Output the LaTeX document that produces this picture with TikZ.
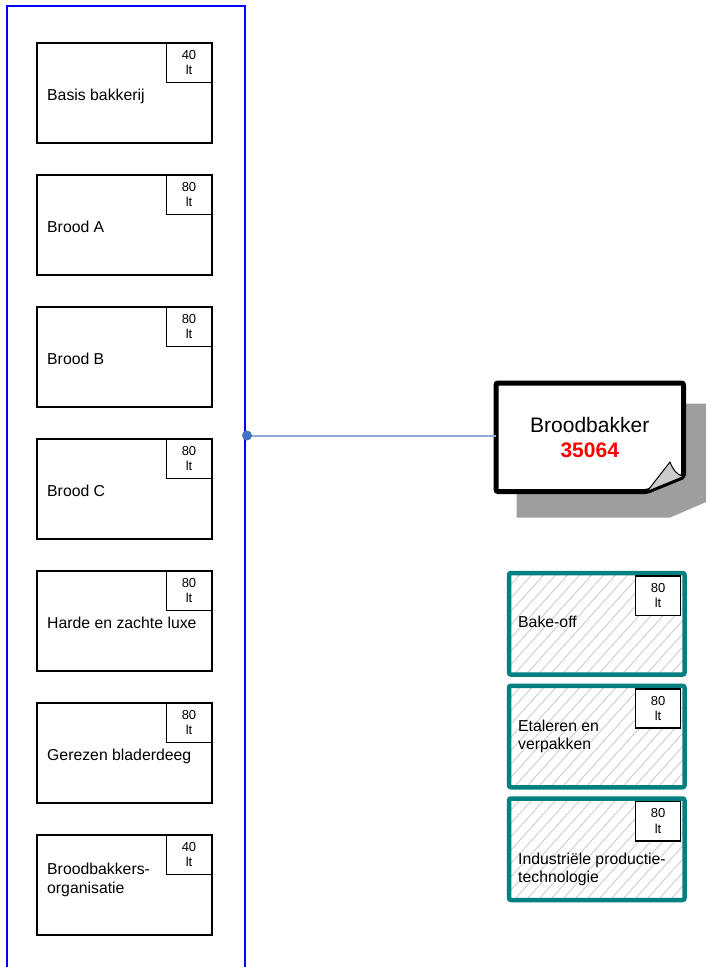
\documentclass[tikz,border=0pt]{standalone}
\usepackage{fontspec}
\setmainfont{Liberation Sans}
\definecolor{laneblue}{HTML}{0000FF}
\definecolor{linkblue}{HTML}{8EAADB}
\definecolor{dotblue}{HTML}{4472C4}
\definecolor{tealline}{HTML}{008080}
\definecolor{shadowgray}{HTML}{9E9E9E}
\definecolor{foldgray}{HTML}{CCCCCC}
\definecolor{hatchgray}{HTML}{C8C8C8}
\tikzset{
  lane/.style = {draw=laneblue, line width=2pt},
  link/.style = {draw=linkblue, line width=2pt},
  hatch/.style = {draw=hatchgray, line width=0.8pt},
  module/.style = {draw, line width=2pt, minimum width=174.5pt, minimum height=99.5pt, anchor=north west, inner sep=0pt, outer sep=0pt},
  elective/.style = {draw=tealline, line width=4.5pt, rounded corners=2pt},
  hours/.style = {draw, fill=white, line width=1.6pt, minimum width=45pt, minimum height=39.5pt, anchor=north east, inner sep=0pt, outer sep=0pt,
    align=center, font=\fontsize{13}{15.5}\selectfont},
  modtext/.style = {anchor=base west, inner sep=0pt, align=left, font=\fontsize{15.8}{18.5}\selectfont},
  note/.style = {minimum width=187.5pt, minimum height=108.5pt, inner sep=0pt, outer sep=0pt, align=center, font=\fontsize{21}{25}\selectfont}
}
\begin{document}
\begin{tikzpicture}[x=1pt,y=-1pt]
\useasboundingbox (0,0) rectangle (705,967);
% leerlijn
\draw[lane] (7,6) rectangle (244.5,990);
\node[module] (basis) at (37,43) {};
\node[hours] (basis-lt) at (basis.north east) {40\\lt};
\node[modtext] (basis-txt) at (47,100) {Basis bakkerij};
\node[module] (broodA) at (37,175) {};
\node[hours] (broodA-lt) at (broodA.north east) {80\\lt};
\node[modtext] (broodA-txt) at (47,232) {Brood A};
\node[module] (broodB) at (37,307) {};
\node[hours] (broodB-lt) at (broodB.north east) {80\\lt};
\node[modtext] (broodB-txt) at (47,364) {Brood B};
\node[module] (broodC) at (37,439) {};
\node[hours] (broodC-lt) at (broodC.north east) {80\\lt};
\node[modtext] (broodC-txt) at (47,496) {Brood C};
\node[module] (luxe) at (37,571) {};
\node[hours] (luxe-lt) at (luxe.north east) {80\\lt};
\node[modtext] (luxe-txt) at (47,628) {Harde en zachte luxe};
\node[module] (blader) at (37,703) {};
\node[hours] (blader-lt) at (blader.north east) {80\\lt};
\node[modtext] (blader-txt) at (47,760) {Gerezen bladerdeeg};
\node[module] (org) at (37,835) {};
\node[hours] (org-lt) at (org.north east) {40\\lt};
\node[modtext] (org-txt) at (47,893) {Broodbakkers-\\organisatie};
% kwalificatie
\fill[shadowgray] (516.5,403.5) -- (712,403.5) -- (712,499.5) -- (670,517.5) -- (516.5,517.5) -- cycle;
\draw[line width=5pt, fill=white, rounded corners=2pt] (496,383) -- (683.5,383) -- (683.5,476.5) -- (647,491.5) -- (496,491.5) -- cycle;
\draw[line width=1pt, fill=foldgray, line join=round] (647,491.5) -- (670,462) .. controls (673,470) and (677,475) .. (683.5,476.5) -- cycle;
\node[note] (baker) at (589.75,437.25) {Broodbakker\\\textcolor{red}{\textbf{35064}}};
\coordinate (tap) at (247,435.5);
\draw[link] (tap) -- (tap -| baker.west);
\fill[dotblue] (tap) circle (5pt);
% keuzedelen
\foreach \ytop in {573,685.75,798.5}{
  \begin{scope}
    \clip (509,\ytop) rectangle (684.5,{\ytop+101.5});
    \foreach \k in {0,...,22}
      \draw[hatch] ({418+12*\k},{\ytop+101.5}) -- ++(91.4,-101.5);
  \end{scope}
  \draw[elective] (509,\ytop) rectangle (684.5,{\ytop+101.5});
}
\node[hours] (bakeoff-lt) at (680.5,576) {80\\lt};
\node[modtext] (bakeoff-txt) at (518,627) {Bake-off};
\node[hours] (etaleren-lt) at (680.5,688.75) {80\\lt};
\node[modtext] (etaleren-txt) at (518,749.5) {Etaleren en\\verpakken};
\node[hours] (industrie-lt) at (680.5,801.5) {80\\lt};
\node[modtext] (industrie-txt) at (518,882.5) {Industriële productie-\\technologie};
\end{tikzpicture}
\end{document}
